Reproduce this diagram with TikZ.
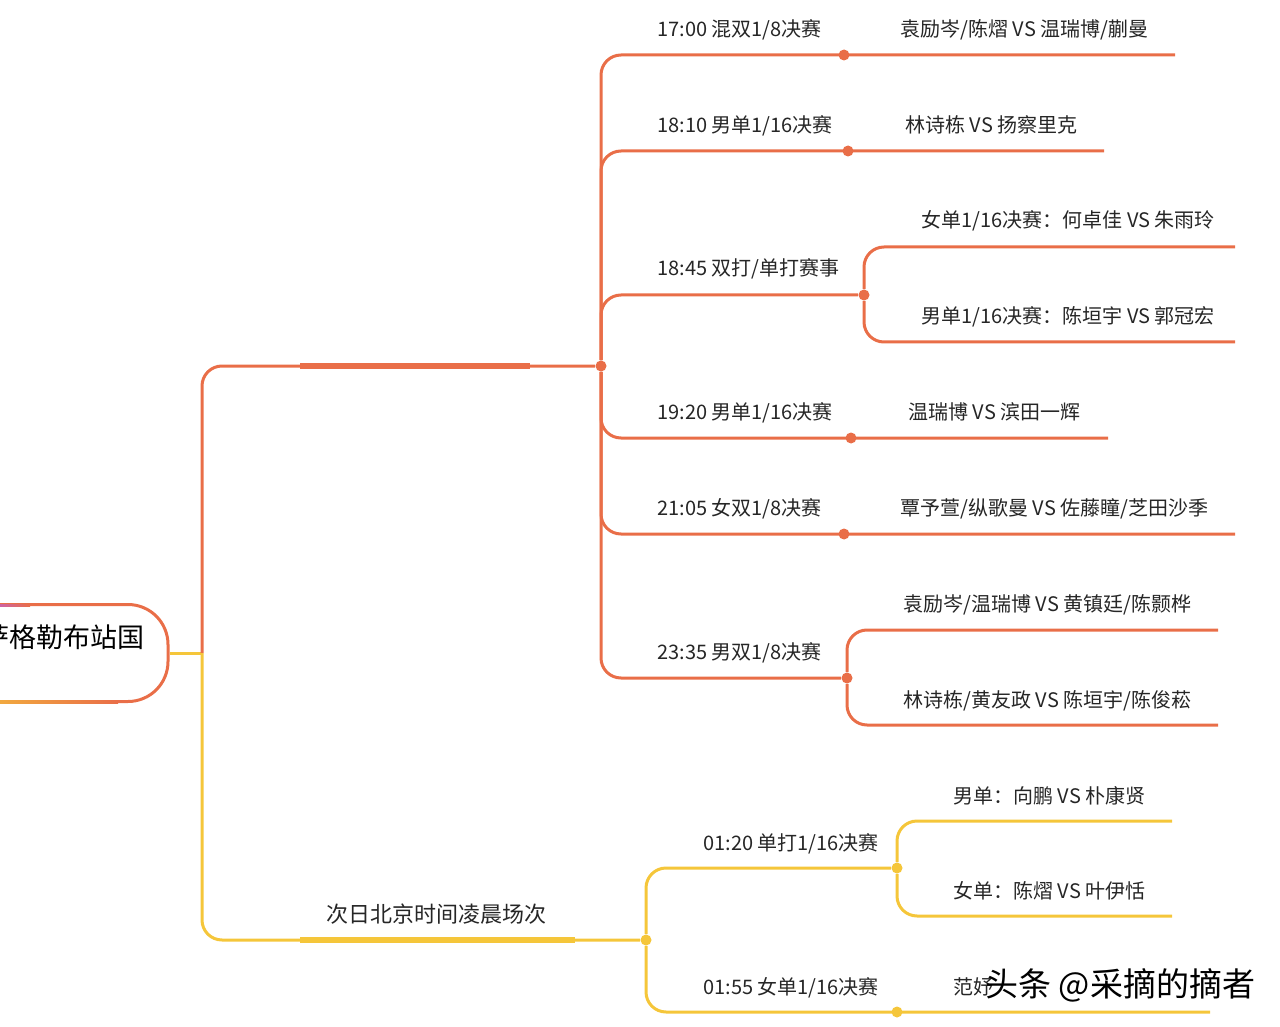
\documentclass[tikz,border=0pt]{standalone}
\usepackage{fontspec}
\newfontfamily\cjk{Noto Sans CJK SC}
\usetikzlibrary{positioning}
\definecolor{branchorange}{RGB}{233,110,72}
\definecolor{branchyellow}{RGB}{245,198,58}
\definecolor{rootpurple}{RGB}{186,92,226}

\begin{document}
\begin{tikzpicture}[
		x=0.5pt, y=-0.5pt,
		font=\cjk\fontsize{10}{12}\selectfont,
		lbl/.style={anchor=base west, inner sep=0pt, text=black!85},
		oline/.style={draw=branchorange, line width=1.5pt, rounded corners=10pt},
		yline/.style={draw=branchyellow, line width=1.5pt, rounded corners=10pt},
		obar/.style={draw=branchorange, line width=3pt},
		ybar/.style={draw=branchyellow, line width=3pt},
		odot/.style={circle, fill=branchorange, inner sep=0pt, minimum size=5.5pt},
		ydot/.style={circle, fill=branchyellow, inner sep=0pt, minimum size=5.5pt},
		rootbox/.style={draw=branchorange, line width=1.5pt, rounded corners=20pt,
				minimum width=114pt, minimum height=48.5pt, fill=white}
		]
		\useasboundingbox (0,0) rectangle (1280,1027);
		% root
		\node[rootbox] (root) at (54,653) {};
		\shade[left color=rootpurple, right color=branchorange]
		(-20,604) rectangle (30,606.5);
		\shade[left color=branchyellow, right color=branchorange]
		(-60,700.5) rectangle (118,703);
		\node[anchor=base east, inner sep=0pt, font=\cjk\fontsize{13.5}{15}\selectfont]
		(roottitle) at (145,647) {萨格勒布站国};
		\coordinate (trunk) at (202,653);
		\draw[yline] (root.east) -- (trunk);

		% first branch
		\node[odot] (hubA) at (601,366) {};
		\coordinate (barAa) at (300,366);
		\coordinate (barAb) at (530,366);
		\draw[oline] (trunk) |- (hubA);
		\draw[obar] (barAa) -- (barAb);

		\node[odot] (dA1) at (844,55) {};
		\node[odot] (dA2) at (848,151) {};
		\node[odot] (dA3) at (864,295) {};
		\node[odot] (dA4) at (851,438) {};
		\node[odot] (dA5) at (844,534) {};
		\node[odot] (dA6) at (847,678) {};
		\coordinate (eA1) at (1175,55);
		\coordinate (eA2) at (1104,151);
		\coordinate (eA3a) at (1235,247);
		\coordinate (eA3b) at (1235,342);
		\coordinate (eA4) at (1108,438);
		\coordinate (eA5) at (1235,534);
		\coordinate (eA6a) at (1218,630);
		\coordinate (eA6b) at (1218,725);
		\draw[oline] (hubA) |- (eA1);
		\draw[oline] (hubA) |- (eA2);
		\draw[oline] (hubA) |- (dA3);
		\draw[oline] (hubA) |- (eA4);
		\draw[oline] (hubA) |- (eA5);
		\draw[oline] (hubA) |- (dA6);
		\draw[oline] (dA3) |- (eA3a);
		\draw[oline] (dA3) |- (eA3b);
		\draw[oline] (dA6) |- (eA6a);
		\draw[oline] (dA6) |- (eA6b);

		\node[lbl] (tA1) at (657,37) {17:00 混双1/8决赛};
		\node[lbl] (mA1) at (900,37) {袁励岑/陈熠 VS 温瑞博/蒯曼};
		\node[lbl] (tA2) at (657,133) {18:10 男单1/16决赛};
		\node[lbl] (mA2) at (905,133) {林诗栋 VS 扬察里克};
		\node[lbl] (tA3) at (657,276) {18:45 双打/单打赛事};
		\node[lbl] (mA3a) at (921,228) {女单1/16决赛：何卓佳 VS 朱雨玲};
		\node[lbl] (mA3b) at (921,324) {男单1/16决赛：陈垣宇 VS 郭冠宏};
		\node[lbl] (tA4) at (657,419) {19:20 男单1/16决赛};
		\node[lbl] (mA4) at (908,419) {温瑞博 VS 滨田一辉};
		\node[lbl] (tA5) at (657,515) {21:05 女双1/8决赛};
		\node[lbl] (mA5) at (900,515) {覃予萱/纵歌曼 VS 佐藤瞳/芝田沙季};
		\node[lbl] (tA6) at (657,659) {23:35 男双1/8决赛};
		\node[lbl] (mA6a) at (903,611) {袁励岑/温瑞博 VS 黄镇廷/陈颢桦};
		\node[lbl] (mA6b) at (903,707) {林诗栋/黄友政 VS 陈垣宇/陈俊菘};

		% second branch
		\node[ydot] (hubB) at (646,940) {};
		\coordinate (barBa) at (300,940);
		\coordinate (barBb) at (575,940);
		\draw[yline] (trunk) |- (hubB);
		\draw[ybar] (barBa) -- (barBb);
		\node[lbl, font=\cjk\fontsize{11}{13}\selectfont] (tB) at (326,922)
		{次日北京时间凌晨场次};

		\node[ydot] (dB1) at (897,868) {};
		\node[ydot] (dB2) at (897,1012) {};
		\coordinate (eB1a) at (1172,821);
		\coordinate (eB1b) at (1172,916);
		\coordinate (eB2) at (1210,1012);
		\draw[yline] (hubB) |- (dB1);
		\draw[yline] (hubB) |- (eB2);
		\draw[yline] (dB1) |- (eB1a);
		\draw[yline] (dB1) |- (eB1b);

		\node[lbl] (tB1) at (703,850) {01:20 单打1/16决赛};
		\node[lbl] (mB1a) at (953,803) {男单：向鹏 VS 朴康贤};
		\node[lbl] (mB1b) at (953,898) {女单：陈熠 VS 叶伊恬};
		\node[lbl] (tB2) at (703,994) {01:55 女单1/16决赛};
		\node[lbl] (mB2) at (953,994) {范妤};
		\node[lbl, font=\cjk\fontsize{16.5}{18}\selectfont, text=black]
		(mark) at (985,996) {头条 @采摘的摘者};
	\end{tikzpicture}
\end{document}
